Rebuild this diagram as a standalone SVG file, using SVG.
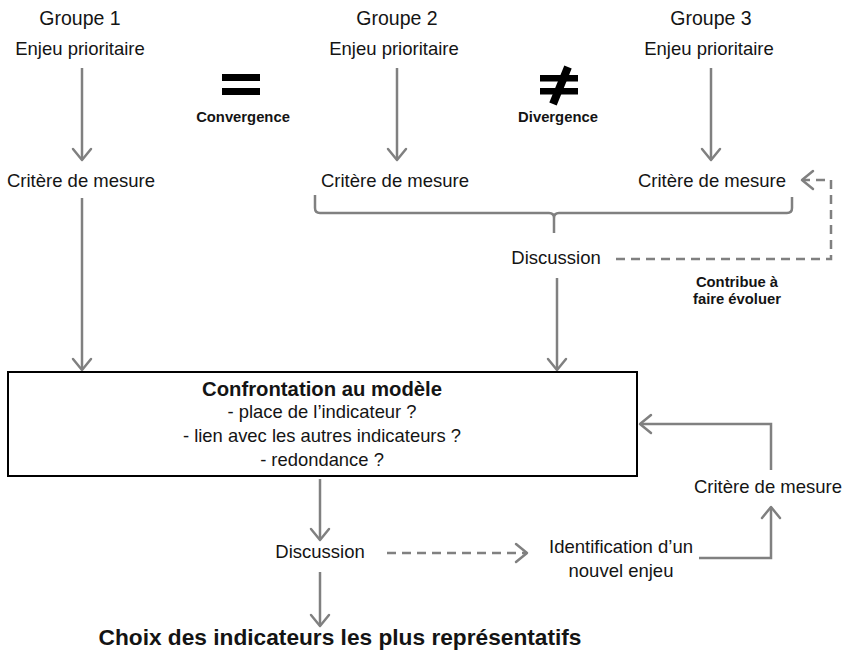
<svg xmlns="http://www.w3.org/2000/svg" width="844" height="658" viewBox="0 0 844 658">
  <defs>
    <marker id="chev" markerUnits="userSpaceOnUse" markerWidth="26" markerHeight="26" viewBox="-13 -13 26 26" refX="0" refY="0" orient="auto">
      <path d="M-11,-9 L0,0 L-11,9" fill="none" stroke="#808080" stroke-width="2.5" stroke-linecap="round" stroke-linejoin="round"/>
    </marker>
    <style>
      text { font-family: "Liberation Sans", Arial, sans-serif; fill: #141414; text-anchor: middle; }
      .t { font-size: 18.5px; }
      .g { font-size: 19.5px; }
      .b { font-weight: bold; font-size: 14.8px; }
      .title { font-weight: bold; font-size: 20.3px; }
      .box { font-size: 18.4px; }
      .big { font-weight: bold; font-size: 22.7px; }
      .ln { fill: none; stroke: #808080; stroke-width: 2.5; }
      .arr { marker-end: url(#chev); }
      .dash { stroke-dasharray: 9 6; }
    </style>
  </defs>

  <!-- connectors -->
  <g id="connectors">
    <line class="ln arr" x1="82" y1="68" x2="82" y2="160"/>
    <line class="ln arr" x1="397" y1="68" x2="397" y2="160"/>
    <line class="ln arr" x1="711" y1="68" x2="711" y2="160"/>
    <!-- brace joining groups 2 and 3 -->
    <path class="ln" d="M315,195 V208 Q315,213 320,213 H549 Q554,213 554,218 V233 M554,218 Q554,213 559,213 H787 Q792,213 792,208 V197"/>
    <!-- feedback to group 3 criterion -->
    <path class="ln dash arr" d="M616,259 H831 V180 H802"/>
    <line class="ln arr" x1="557" y1="278" x2="557" y2="370"/>
    <line class="ln arr" x1="82" y1="198" x2="82" y2="370"/>
    <!-- new criterion back to the model -->
    <path class="ln arr" d="M771,470 V424 H640"/>
    <line class="ln arr" x1="320" y1="479" x2="320" y2="540"/>
    <line class="ln dash arr" x1="387" y1="553" x2="527" y2="553"/>
    <path class="ln arr" d="M699,558 H771 V507"/>
    <line class="ln arr" x1="320" y1="572" x2="320" y2="626"/>
  </g>

  <g id="group1">
    <text class="g" x="80" y="25">Groupe 1</text>
    <text class="t" x="80" y="55">Enjeu prioritaire</text>
    <text class="t" x="81" y="187">Critère de mesure</text>
  </g>
  <g id="group2">
    <text class="g" x="397" y="25">Groupe 2</text>
    <text class="t" x="394" y="55">Enjeu prioritaire</text>
    <text class="t" x="395" y="187">Critère de mesure</text>
  </g>
  <g id="group3">
    <text class="g" x="711" y="25">Groupe 3</text>
    <text class="t" x="709" y="55">Enjeu prioritaire</text>
    <text class="t" x="712" y="187">Critère de mesure</text>
  </g>

  <g id="convergence">
    <rect x="222" y="74" width="38" height="7" fill="#000"/>
    <rect x="222" y="88" width="38" height="7" fill="#000"/>
    <text class="b" x="243" y="122">Convergence</text>
  </g>
  <g id="divergence">
    <rect x="540" y="75" width="38" height="6.5" fill="#000"/>
    <rect x="540" y="88" width="38" height="6.5" fill="#000"/>
    <path d="M564.3,65.5 L571.7,68.5 L556.7,105.5 L549.3,102.5 Z" fill="#000"/>
    <text class="b" x="558" y="122">Divergence</text>
  </g>

  <g id="discussion1">
    <text class="t" x="556" y="264">Discussion</text>
  </g>
  <g id="contribue">
    <text class="b" x="737" y="287">Contribue à</text>
    <text class="b" x="737" y="304">faire évoluer</text>
  </g>

  <g id="model">
    <rect x="8" y="372" width="629" height="104" fill="#fff" stroke="#000" stroke-width="2"/>
    <text class="title" x="322" y="396">Confrontation au modèle</text>
    <text class="box" x="322" y="418">- place de l’indicateur ?</text>
    <text class="box" x="322" y="442">- lien avec les autres indicateurs ?</text>
    <text class="box" x="322" y="466">- redondance ?</text>
  </g>

  <g id="critere4">
    <text class="t" x="768" y="493">Critère de mesure</text>
  </g>
  <g id="discussion2">
    <text class="t" x="320" y="558">Discussion</text>
  </g>
  <g id="nouvel-enjeu">
    <text class="t" x="621" y="553">Identification d’un</text>
    <text class="t" x="621" y="577">nouvel enjeu</text>
  </g>
  <g id="choix">
    <text class="big" x="340" y="645">Choix des indicateurs les plus représentatifs</text>
  </g>
</svg>
